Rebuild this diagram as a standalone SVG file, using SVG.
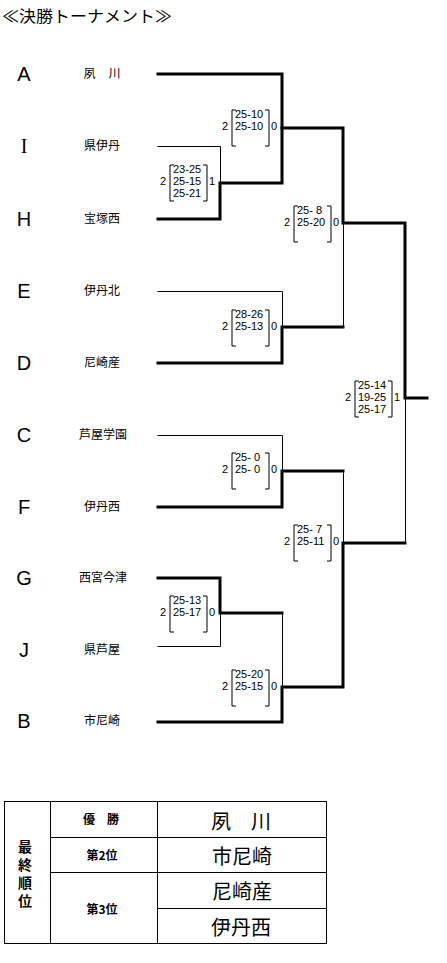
<svg xmlns="http://www.w3.org/2000/svg" width="447" height="963" viewBox="0 0 447 963">
<style>
.bg{fill:#fff}
.title{font-family:"Noto Sans CJK JP","Liberation Sans",sans-serif;font-size:16px;fill:#000}
.letter{font-family:"Liberation Sans",sans-serif;font-size:20px;fill:#000;text-anchor:middle}
.letterS{font-family:"Liberation Serif",serif;font-size:20px;fill:#000;text-anchor:middle}
.name{font-family:"Noto Sans CJK JP",sans-serif;font-size:12px;fill:#000;text-anchor:middle}
.sc{font-family:"Liberation Sans",sans-serif;font-size:11px;fill:#000;white-space:pre}
.sm{font-family:"Liberation Sans",sans-serif;font-size:11px;fill:#000;text-anchor:middle}
.brk{fill:none;stroke:#000;stroke-width:1}
.thin{fill:none;stroke:#000;stroke-width:1}
.thick{fill:none;stroke:#000;stroke-width:3;stroke-linejoin:miter;stroke-linecap:square}
.tb{fill:none;stroke:#000;stroke-width:1}
.th{font-family:"Noto Sans CJK JP",sans-serif;font-size:12px;font-weight:bold;fill:#000;text-anchor:middle}
.tv{font-family:"Noto Sans CJK JP",sans-serif;font-size:14px;font-weight:bold;fill:#000;writing-mode:vertical-rl;letter-spacing:4px}
.big{font-family:"Noto Sans CJK JP",sans-serif;font-size:20px;fill:#000;text-anchor:middle}
</style>
<defs>
<g id="b2"><path class="brk" d="M-46,0H-50V36H-46M-17,0H-13V36H-17"/></g>
</defs>
<rect class="bg" x="0" y="0" width="447" height="963"/>
<text class="title" x="2" y="22" textLength="170" lengthAdjust="spacingAndGlyphs">≪決勝トーナメント≫</text>

<g id="connectors">
<path class="thin" d="M157.5,146.5H220.5V183"/>
<path class="thin" d="M157.5,291.5H282.5V327"/>
<path class="thin" d="M343.5,223V327"/>
<path class="thin" d="M157.5,435.5H282.5V471"/>
<path class="thin" d="M343.5,471V543"/>
<path class="thin" d="M405.5,398V543"/>
<path class="thin" d="M157.5,646.5H220.5V613"/>
<path class="thin" d="M282.5,613V687"/>
<path class="thick" d="M158,74H282V128H343V223H405V398H427"/>
<path class="thick" d="M158,219H220V183H282V128"/>
<path class="thick" d="M158,363H282V327H343"/>
<path class="thick" d="M158,507H282V471H343"/>
<path class="thick" d="M158,578H220V613H282"/>
<path class="thick" d="M158,722H282V687H343V543H405"/>
</g>

<g id="team-A"><text class="letter" x="24" y="81">A</text><text class="name" x="102" y="78" textLength="37" lengthAdjust="spacing">夙 川</text></g>
<g id="team-I"><text class="letterS" x="24" y="153">I</text><text class="name" x="102" y="150">県伊丹</text></g>
<g id="team-H"><text class="letter" x="24" y="226">H</text><text class="name" x="102" y="223">宝塚西</text></g>
<g id="team-E"><text class="letter" x="24" y="298">E</text><text class="name" x="102" y="295">伊丹北</text></g>
<g id="team-D"><text class="letter" x="24" y="370">D</text><text class="name" x="102" y="367">尼崎産</text></g>
<g id="team-C"><text class="letter" x="24" y="442">C</text><text class="name" x="103" y="439">芦屋学園</text></g>
<g id="team-F"><text class="letter" x="24" y="514">F</text><text class="name" x="102" y="511">伊丹西</text></g>
<g id="team-G"><text class="letter" x="24" y="585">G</text><text class="name" x="103" y="582">西宮今津</text></g>
<g id="team-J"><text class="letter" x="24" y="657">J</text><text class="name" x="102" y="654">県芦屋</text></g>
<g id="team-B"><text class="letter" x="24" y="728">B</text><text class="name" x="102" y="725">市尼崎</text></g>

<g id="score-IH" transform="translate(220,165)"><use href="#b2"/><text class="sm" x="-57" y="20">2</text><text class="sm" x="-8" y="20">1</text><text class="sc" x="-47" y="8">23-25</text><text class="sc" x="-47" y="20">25-15</text><text class="sc" x="-47" y="32">25-21</text></g>
<g id="score-AH" transform="translate(282,110)"><use href="#b2"/><text class="sm" x="-57" y="20">2</text><text class="sm" x="-8" y="20">0</text><text class="sc" x="-47" y="8">25-10</text><text class="sc" x="-47" y="20">25-10</text></g>
<g id="score-ED" transform="translate(282,310)"><use href="#b2"/><text class="sm" x="-57" y="20">2</text><text class="sm" x="-8" y="20">0</text><text class="sc" x="-47" y="8">28-26</text><text class="sc" x="-47" y="20">25-13</text></g>
<g id="score-AD" transform="translate(344,206)"><use href="#b2"/><text class="sm" x="-57" y="20">2</text><text class="sm" x="-8" y="20">0</text><text class="sc" x="-47" y="8">25- 8</text><text class="sc" x="-47" y="20">25-20</text></g>
<g id="score-final" transform="translate(405,381)"><use href="#b2"/><text class="sm" x="-57" y="20">2</text><text class="sm" x="-8" y="20">1</text><text class="sc" x="-47" y="8">25-14</text><text class="sc" x="-47" y="20">19-25</text><text class="sc" x="-47" y="32">25-17</text></g>
<g id="score-CF" transform="translate(282,453)"><use href="#b2"/><text class="sm" x="-57" y="20">2</text><text class="sm" x="-8" y="20">0</text><text class="sc" x="-47" y="8">25- 0</text><text class="sc" x="-47" y="20">25- 0</text></g>
<g id="score-BF" transform="translate(344,525)"><use href="#b2"/><text class="sm" x="-57" y="20">2</text><text class="sm" x="-8" y="20">0</text><text class="sc" x="-47" y="8">25- 7</text><text class="sc" x="-47" y="20">25-11</text></g>
<g id="score-GJ" transform="translate(220,596)"><use href="#b2"/><text class="sm" x="-57" y="20">2</text><text class="sm" x="-8" y="20">0</text><text class="sc" x="-47" y="8">25-13</text><text class="sc" x="-47" y="20">25-17</text></g>
<g id="score-BG" transform="translate(282,670)"><use href="#b2"/><text class="sm" x="-57" y="20">2</text><text class="sm" x="-8" y="20">0</text><text class="sc" x="-47" y="8">25-20</text><text class="sc" x="-47" y="20">25-15</text></g>

<g id="ranking">
<rect class="tb" x="4.5" y="801.5" width="322" height="142"/>
<path class="tb" d="M50.5,801.5V943.5M157.5,801.5V943.5M50.5,837.5H326.5M50.5,872.5H326.5M157.5,908.5H326.5"/>
<text class="tv" x="25" y="840">最終順位</text>
<text class="th" x="101" y="824" textLength="36" lengthAdjust="spacing">優 勝</text>
<text class="th" x="102" y="860">第2位</text>
<text class="th" x="102" y="914">第3位</text>
<text class="big" x="241" y="829" textLength="60" lengthAdjust="spacing">夙 川</text>
<text class="big" x="242" y="864">市尼崎</text>
<text class="big" x="242" y="899">尼崎産</text>
<text class="big" x="241" y="935">伊丹西</text>
</g>
</svg>
